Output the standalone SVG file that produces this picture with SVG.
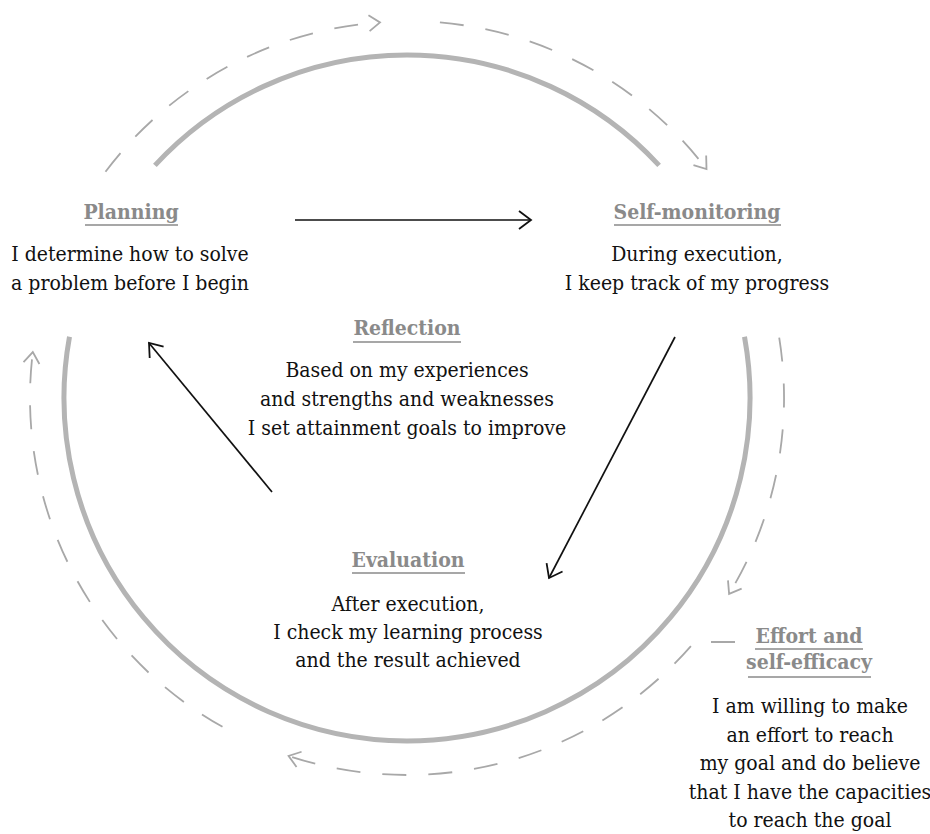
<svg xmlns="http://www.w3.org/2000/svg" width="930" height="834" viewBox="0 0 930 834">
<style>
.ring{fill:none;stroke:#b4b4b4;stroke-width:5}
.dash{fill:none;stroke:#a8a8a8;stroke-width:1.8;stroke-dasharray:24 22}
.arr{fill:none;stroke:#111;stroke-width:1.7}
.head{font-family:"DejaVu Serif Condensed","DejaVu Serif",serif;font-stretch:condensed;font-weight:bold;font-size:21px;fill:#8a8a8a;text-anchor:middle}
.body{font-family:"DejaVu Serif Condensed","DejaVu Serif",serif;font-stretch:condensed;font-size:21px;fill:#111;text-anchor:middle}
.ul{stroke:#8a8a8a;stroke-width:1.6}
</style>
<defs>
<marker id="ah" markerUnits="userSpaceOnUse" markerWidth="16" markerHeight="20" refX="12" refY="9" orient="auto" overflow="visible">
<path d="M0,0 L12,9 L0,18" fill="none" stroke="#111" stroke-width="1.8"/>
</marker>
<marker id="gh" markerUnits="userSpaceOnUse" markerWidth="16" markerHeight="20" refX="11" refY="8" orient="auto" overflow="visible">
<path d="M0,0 L11,8 L0,16" fill="none" stroke="#a8a8a8" stroke-width="1.8" stroke-dasharray="none"/>
</marker>
</defs>
<g id="cycle-ring">
<path class="ring" d="M154.9,165.4 A343,343 0 0 1 659.1,165.4"/>
<path class="ring" d="M69.5,336.7 A343,343 0 1 0 744.5,336.7"/>
</g>
<g id="connectors">
<path class="dash" d="M105.5,171.7 A377,377 0 0 1 380,22.4" marker-end="url(#gh)"/>
<path class="dash" d="M439.9,22.4 A377,377 0 0 1 706.5,169" marker-end="url(#gh)"/>
<path class="dash" d="M779.2,337.7 A377,377 0 0 1 729.1,593.9" marker-end="url(#gh)"/>
<path class="dash" d="M735,642 L694.4,642 A377,377 0 0 1 288.6,755.9" marker-end="url(#gh)"/>
<path class="dash" d="M222.5,726.8 A377,377 0 0 1 32.8,352.1" marker-end="url(#gh)"/>
<path class="arr" d="M295,220 L531,220" marker-end="url(#ah)"/>
<path class="arr" d="M675,337 L549,578" marker-end="url(#ah)"/>
<path class="arr" d="M272,492 L149,343" marker-end="url(#ah)"/>
</g>
<g id="planning">
<text class="head" x="131" y="219">Planning</text>
<line class="ul" x1="85" y1="225" x2="178" y2="225"/>
<text class="body" x="130" y="261">I determine how to solve</text>
<text class="body" x="130" y="290">a problem before I begin</text>
</g>
<g id="self-monitoring">
<text class="head" x="697" y="219">Self-monitoring</text>
<line class="ul" x1="614" y1="225" x2="781" y2="225"/>
<text class="body" x="697" y="261">During execution,</text>
<text class="body" x="697" y="290">I keep track of my progress</text>
</g>
<g id="reflection">
<text class="head" x="407" y="335">Reflection</text>
<line class="ul" x1="353" y1="342" x2="461" y2="342"/>
<text class="body" x="407" y="377">Based on my experiences</text>
<text class="body" x="407" y="406">and strengths and weaknesses</text>
<text class="body" x="407" y="435">I set attainment goals to improve</text>
</g>
<g id="evaluation">
<text class="head" x="408" y="567">Evaluation</text>
<line class="ul" x1="352" y1="573" x2="465" y2="573"/>
<text class="body" x="408" y="611">After execution,</text>
<text class="body" x="408" y="639">I check my learning process</text>
<text class="body" x="408" y="667">and the result achieved</text>
</g>
<g id="effort">
<text class="head" x="809" y="643">Effort and</text>
<line class="ul" x1="755" y1="649" x2="863" y2="649"/>
<text class="head" x="809" y="669">self-efficacy</text>
<line class="ul" x1="748" y1="677" x2="871" y2="677"/>
<text class="body" x="810" y="713">I am willing to make</text>
<text class="body" x="810" y="742">an effort to reach</text>
<text class="body" x="810" y="770">my goal and do believe</text>
<text class="body" x="810" y="799">that I have the capacities</text>
<text class="body" x="810" y="827">to reach the goal</text>
</g>
</svg>
